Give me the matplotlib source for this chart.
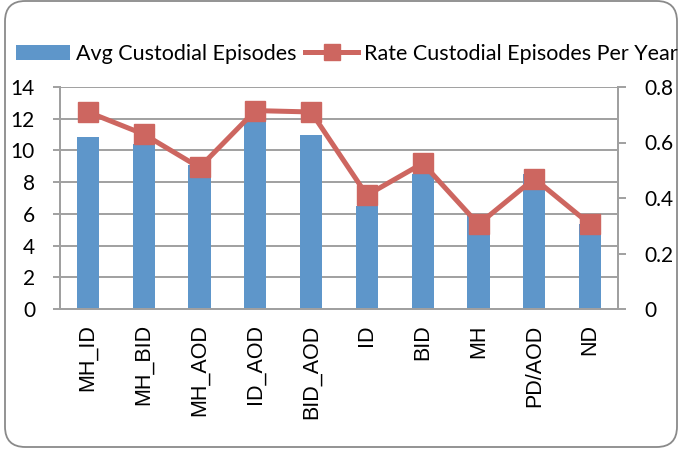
import numpy as np
import matplotlib
matplotlib.use("Agg")
import matplotlib.pyplot as plt
from matplotlib.patches import FancyBboxPatch

# values
categories = ['MH_ID', 'MH_BID', 'MH_AOD', 'ID_AOD', 'BID_AOD',
              'ID', 'BID', 'MH', 'PD/AOD', 'ND']
avg_episodes = [10.85, 10.4, 9.1, 11.85, 10.95, 6.5, 8.5, 5.9, 8.5, 5.35]
rate_per_year = [0.71, 0.63, 0.51, 0.715, 0.71, 0.41, 0.525, 0.305, 0.47, 0.305]
left_ticks = [0, 2, 4, 6, 8, 10, 12, 14]
right_ticks = [0, 0.2, 0.4, 0.6, 0.8]
right_labels = ['0', '0.2', '0.4', '0.6', '0.8']

blue = '#5e96ca'
red = '#cd6660'
grey = '#a0a0a0'
ui_font = 'Lato'

W, H = 678, 450
fig = plt.figure(figsize=(W / 100, H / 100), dpi=100)

# rounded chart border
border = FancyBboxPatch((5 / W, 3 / H), 672 / W, 446 / H,
                        boxstyle="round,pad=0,rounding_size=0.03",
                        transform=fig.transFigure, facecolor='none',
                        edgecolor='#8a8a8a', linewidth=1.3, mutation_aspect=W / H)
fig.patches.append(border)

ax = fig.add_axes([60 / W, 1 - 309 / H, 558 / W, 222 / H])
x = np.arange(len(categories))

ax.bar(x, avg_episodes, width=0.4, color=blue, zorder=2,
       label='Avg Custodial Episodes')
ax.set_xlim(-0.5, len(categories) - 0.5)
ax.set_ylim(0, 14)
ax.set_yticks(left_ticks)
ax.yaxis.grid(True, color=grey, linewidth=1.4)
ax.set_axisbelow(True)
ax.set_xticks(x)
ax.set_xticklabels(categories, rotation=90, fontsize=15.5,
                   family='Liberation Sans')
ax.tick_params(axis='x', length=0, pad=11)
ax.tick_params(axis='y', length=5, width=1.4, color=grey, pad=13,
               labelsize=15)
for t in ax.get_yticklabels():
    t.set_family(ui_font)
ax.spines['top'].set_visible(False)
for side in ['left', 'right', 'bottom']:
    ax.spines[side].set_color(grey)
    ax.spines[side].set_linewidth(1.4)

ax2 = ax.twinx()
ax2.plot(x, rate_per_year, color=red, linewidth=3.6, marker='s',
         markersize=15, markeredgecolor=red, zorder=3,
         label='Rate Custodial Episodes Per Year')
ax2.set_ylim(0, 0.8)
ax2.set_yticks(right_ticks)
ax2.set_yticklabels(right_labels, family=ui_font)
ax2.tick_params(axis='y', length=6, width=1.4, color=grey, pad=13,
                labelsize=15)
ax2.spines['top'].set_visible(False)
for side in ['left', 'right', 'bottom']:
    ax2.spines[side].set_color(grey)
    ax2.spines[side].set_linewidth(1.4)

h1, l1 = ax.get_legend_handles_labels()
h2, l2 = ax2.get_legend_handles_labels()
fig.legend(h1 + h2, l1 + l2, loc='center left',
           bbox_to_anchor=(12 / W, 1 - 54 / H), ncol=2, frameon=False,
           prop={'family': ui_font, 'size': 15.5}, handlelength=2.5,
           handleheight=0.7, handletextpad=0.25, columnspacing=0.4,
           borderaxespad=0, borderpad=0.2, markerscale=0.75)

fig.savefig('out.png', dpi=100)
